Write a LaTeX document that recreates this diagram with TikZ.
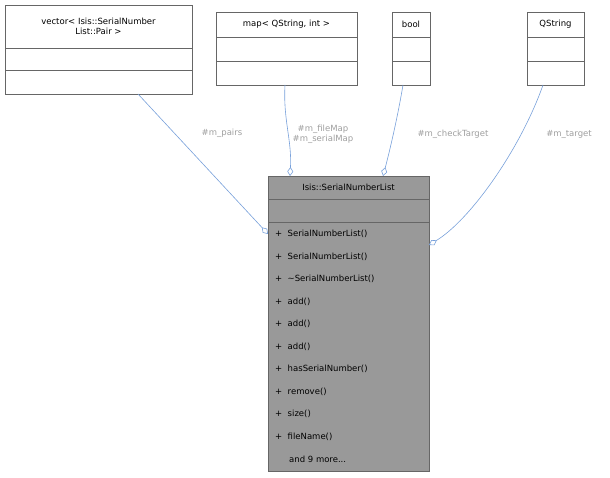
\documentclass[tikz,border=0pt]{standalone}
\usepackage{fontspec}
\setmainfont{DejaVu Sans}
\usetikzlibrary{arrows.meta}
\begin{document}
\begin{tikzpicture}[x=1pt,y=-1pt,
  cls/.style={draw=black!60,fill=white,anchor=north west,inner sep=0pt},
  txt/.style={font=\fontsize{8.5}{10.5}\selectfont,inner sep=0pt,align=center},
  mth/.style={font=\fontsize{8.5}{10}\selectfont,inner sep=0pt,anchor=west},
  lbl/.style={font=\fontsize{8.5}{10}\selectfont,text=black!38,inner sep=0pt,align=center},
  edge/.style={draw=cyan!50!blue!55,line width=0.6pt,-{Diamond[open,length=9pt,width=6pt]}}]
\useasboundingbox (0,0) rectangle (610,478);
% boxes
\node[cls,minimum width=187pt,minimum height=89pt] (vec) at (5,5) {};
\draw[black!60] (5,48)--(192,48) (5,70)--(192,70);
\node[txt] (vect) at (98.5,26.5) {vector< Isis::SerialNumber\\List::Pair >};
\node[cls,minimum width=141pt,minimum height=73pt] (map) at (216,12) {};
\draw[black!60] (216,37)--(357,37) (216,61)--(357,61);
\node[txt] (mapt) at (286.5,24.5) {map< QString, int >};
\node[cls,minimum width=38pt,minimum height=73pt] (bool) at (392,12) {};
\draw[black!60] (392,37)--(430,37) (392,61)--(430,61);
\node[txt] (boolt) at (411,24.5) {bool};
\node[cls,minimum width=57pt,minimum height=73pt] (qs) at (527,12) {};
\draw[black!60] (527,37)--(584,37) (527,61)--(584,61);
\node[txt] (qst) at (555.5,24.5) {QString};
\node[cls,fill=black!40,minimum width=161pt,minimum height=295pt] (main) at (268,176) {};
\draw[black!60] (268,199)--(429,199) (268,222)--(429,222);
\node[txt] (maint) at (348.5,187.5) {Isis::SerialNumberList};
\foreach \t [count=\i] in {SerialNumberList(),SerialNumberList(),\textasciitilde SerialNumberList(),add(),add(),add(),hasSerialNumber(),remove(),size(),fileName()}
  \node[mth] (m\i) at (275,{211.5+22.5*\i}) {+\ \ \t};
\node[mth] (more) at (289,459) {and 9 more...};
% edges
\coordinate (a1) at (138,94); \coordinate (a2) at (268,234);
\draw[edge] (a1) -- (a2);
\coordinate (b1) at (285,85); \coordinate (b2) at (290,176);
\draw[edge] (b1) .. controls (283,120) and (292,140) .. (b2);
\coordinate (c1) at (403,85); \coordinate (c2) at (383,176);
\draw[edge] (c1) .. controls (398,115) and (390,150) .. (c2);
\coordinate (d1) at (543,85); \coordinate (d2) at (429,245);
\draw[edge] (d1) .. controls (520,150) and (470,220) .. (d2);
% labels
\node[lbl] (l1) at (222,133) {\#m\_pairs};
\node[lbl] (l2) at (323,134.5) {\#m\_fileMap\\\#m\_serialMap};
\node[lbl] (l3) at (453,134) {\#m\_checkTarget};
\node[lbl] (l4) at (569,134) {\#m\_target};
\end{tikzpicture}
\end{document}
